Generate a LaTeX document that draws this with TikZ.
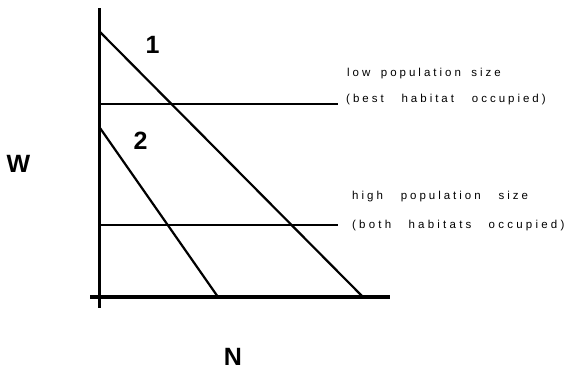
\documentclass[tikz,border=0pt]{standalone}
\usepackage{fontspec}
\setmainfont{Liberation Sans}
\newfontfamily\spaced[LetterSpace=26,WordSpace=2.3]{Liberation Sans}
\newfontfamily\spacedtight[LetterSpace=26,WordSpace=1.7]{Liberation Sans}
\newfontfamily\spacedwide[LetterSpace=28,WordSpace=2.7]{Liberation Sans}
\begin{document}
\begin{tikzpicture}[x=1pt,y=-1pt,
  axis/.style={line width=3.5pt},
  diag/.style={line width=2.2pt},
  level/.style={line width=1.4pt},
  big/.style={font=\fontsize{25}{25}\selectfont\bfseries, inner sep=0pt},
  note/.style={font=\spaced\fontsize{11.5}{12}\selectfont, anchor=west, inner sep=0pt}]
\useasboundingbox (0,0) rectangle (570,373);
% axes
\coordinate (ytop) at (99.5,8);
\coordinate (ybot) at (99.5,308);
\coordinate (xl) at (90,297);
\coordinate (xr) at (390,297);
\draw[axis] (ytop) -- (ybot);
\draw[axis] (xl) -- (xr);
% diagonals
\coordinate (a1) at (100,32);
\coordinate (b1) at (363,297);
\coordinate (a2) at (100,128);
\coordinate (b2) at (218,297);
\draw[diag] (a1) -- (b1);
\draw[diag] (a2) -- (b2);
% levels
\coordinate (h1l) at (100,104);
\coordinate (h1r) at (338,104);
\coordinate (h2l) at (100,225);
\coordinate (h2r) at (338,225);
\draw[level] (h1l) -- (h1r);
\draw[level] (h2l) -- (h2r);
% labels
\node[big] (one) at (152.5,44.5) {1};
\node[big] (two) at (140.5,141) {2};
\node[big] (w) at (18.5,164) {W};
\node[big] (n) at (233,357) {N};
\node[note, font=\spacedtight\fontsize{11.5}{12}\selectfont] (t1) at (347,74) {low population size};
\node[note] (t2) at (346,100) {(best habitat occupied)};
\node[note] (t3) at (352,197) {high population size};
\node[note, font=\spacedwide\fontsize{11.5}{12}\selectfont] (t4) at (352,226) {(both habitats occupied)};
\end{tikzpicture}
\end{document}
